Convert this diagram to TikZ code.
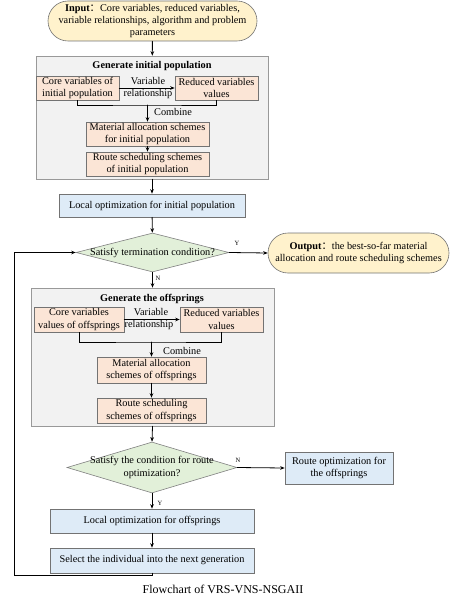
\documentclass[tikz,border=0pt]{standalone}
\usepackage{fontspec}
\setmainfont{Liberation Serif}
\newfontfamily\cjk{Noto Sans CJK SC}
\usetikzlibrary{arrows.meta,shapes.geometric}
\definecolor{inputyellow}{RGB}{255,242,204}
\definecolor{panelgray}{RGB}{242,242,242}
\definecolor{schemeorange}{RGB}{251,229,214}
\definecolor{stepblue}{RGB}{222,235,247}
\definecolor{decgreen}{RGB}{226,240,217}
\tikzset{
  every node/.style={font=\fontsize{10.3}{12.3}\selectfont},
  box/.style={draw=black!55, line width=0.6pt, inner sep=1pt, align=center},
  panel/.style={box, fill=panelgray, draw=black!40},
  scheme/.style={box, fill=schemeorange},
  stepbox/.style={box, fill=stepblue},
  terminal/.style={box, fill=inputyellow, rounded corners=20pt},
  decision/.style={diamond, draw=black!50, fill=decgreen, line width=0.6pt,
    inner sep=0pt},
  flow/.style={line width=0.8pt, line cap=round,
    -{Stealth[length=4.5pt,width=3.6pt]}},
  join line/.style={line width=0.8pt},
  tag/.style={font=\fontsize{6.5}{7}\selectfont, inner sep=0pt},
  panel title/.style={font=\fontsize{10.3}{12.3}\selectfont\bfseries, inner sep=0pt},
  note/.style={inner sep=0pt, align=center}
}

\begin{document}
\begin{tikzpicture}[x=1pt,y=-1pt]
  \useasboundingbox (0,0) rectangle (450,596);

  % input
  \node[terminal, minimum width=209pt, minimum height=40pt] (input) at (152.5,21)
    {\textbf{Input}{\cjk ：}Core variables, reduced variables,\\
     variable relationships, algorithm and problem\\ parameters};

  % initial population
  \node[panel, minimum width=232pt, minimum height=123pt] (gen1) at (152,117.5) {};
  \node[panel title] (gen1title) at (152,66) {Generate initial population};
  \node[scheme, minimum width=83pt, minimum height=24pt] (core1) at (77.5,88)
    {Core variables of\\ initial population};
  \node[scheme, minimum width=83pt, minimum height=24pt] (red1) at (216.5,88)
    {Reduced variables\\ values};
  \node[scheme, minimum width=123pt, minimum height=24pt] (mat1) at (147.5,134)
    {Material allocation schemes\\ for initial population};
  \node[scheme, minimum width=123pt, minimum height=24pt] (route1) at (147.5,164)
    {Route scheduling schemes\\ of initial population};
  \node[note] (var1) at (148,81) {Variable};
  \node[note] (rel1) at (148,94) {relationship};
  \coordinate (join1) at (147.5,105);
  \node[note, anchor=west] (comb1) at (154,112) {Combine};

  \draw[flow] (core1) -- (red1);
  \draw[join line] (core1.south) |- (join1) -| (red1.south);
  \draw[flow] (join1) -- (mat1.north);
  \draw[flow] (mat1) -- (route1);

  \node[stepbox, minimum width=186pt, minimum height=23pt] (local1) at (152,205.5)
    {Local optimization for initial population};

  % termination
  \node[decision, minimum width=153pt, minimum height=39pt] (cond1) at (152.5,252.5) {};
  \node[note] (cond1text) at (152.5,252.5) {Satisfy termination condition?};
  \node[terminal, minimum width=181pt, minimum height=40pt] (output) at (358.5,253)
    {\textbf{Output}{\cjk ：}the best-so-far material\\
     allocation and route scheduling schemes};
  \node[tag] (yes1) at (237,243) {Y};
  \node[tag] (no1) at (158,278) {N};

  \draw[flow] (input) -- (gen1);
  \draw[flow] (gen1) -- (local1);
  \draw[flow] (local1) -- (cond1);
  \draw[flow] (cond1.east) -- (output.west);

  % offsprings
  \node[panel, minimum width=243pt, minimum height=138pt] (gen2) at (152.5,357) {};
  \node[panel title] (gen2title) at (152,299) {Generate the offsprings};
  \node[scheme, minimum width=90pt, minimum height=25pt] (core2) at (79,319.5)
    {Core variables\\ values of offsprings};
  \node[scheme, minimum width=83pt, minimum height=25pt] (red2) at (221.5,319.5)
    {Reduced variables\\ values};
  \node[scheme, minimum width=109pt, minimum height=26pt] (mat2) at (151.5,370)
    {Material allocation\\ schemes of offsprings};
  \node[scheme, minimum width=109pt, minimum height=25pt] (route2) at (151.5,410.5)
    {Route scheduling\\ schemes of offsprings};
  \node[note] (var2) at (151,312) {Variable};
  \node[note] (rel2) at (149,325) {relationship};
  \coordinate (join2) at (151.5,342);
  \node[note, anchor=west] (comb2) at (163,351) {Combine};

  \draw[flow] (cond1.south) -- (gen2.north);
  \draw[flow] (core2) -- (red2);
  \draw[join line] (core2.south) |- (join2) -| (red2.south);
  \draw[flow] (join2) -- (mat2.north);
  \draw[flow] (mat2) -- (route2);

  % route optimization
  \node[decision, minimum width=170pt, minimum height=51pt] (cond2) at (152,467.5) {};
  \node[note] (cond2text) at (152,467.5) {Satisfy the condition for route\\ optimization?};
  \node[stepbox, minimum width=108pt, minimum height=32pt] (ropt) at (339,468)
    {Route optimization for\\ the offsprings};
  \node[tag] (no2) at (238,460) {N};
  \node[tag] (yes2) at (160,503) {Y};
  \node[stepbox, minimum width=204pt, minimum height=24pt] (local2) at (152,521)
    {Local optimization for offsprings};
  \node[stepbox, minimum width=204pt, minimum height=25pt] (select) at (152,560.5)
    {Select the individual into the next generation};
  \coordinate (loop) at (14,575.5);

  \draw[flow] (gen2.south) -- (cond2.north);
  \draw[flow] (cond2.east) -- (ropt.west);
  \draw[flow] (cond2.south) -- (local2.north);
  \draw[flow] (local2) -- (select);
  \draw[flow, line width=1pt] (select.south) |- (loop) |- (cond1.west);

  \node[font=\fontsize{12}{14}\selectfont] (caption) at (223,589)
    {Flowchart of VRS-VNS-NSGAII};
\end{tikzpicture}
\end{document}
